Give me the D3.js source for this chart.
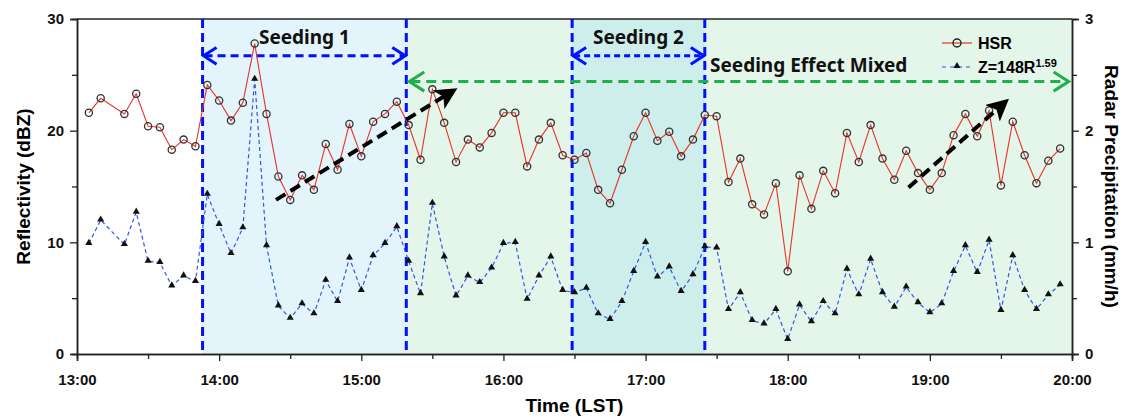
<!DOCTYPE html>
<html>
<head>
<meta charset="utf-8">
<script src="https://cdn.jsdelivr.net/npm/d3@7"></script>
<style>
  body { margin: 0; background: #fff; }
  svg { display: block; }
</style>
</head>
<body>
<svg class="chart"></svg>
<script>
// sample times (LST), 5 min steps, 13:15 missing
const times = ["13:05","13:10","13:20","13:25","13:30","13:35","13:40","13:45","13:50","13:55",
  "14:00","14:05","14:10","14:15","14:20","14:25","14:30","14:35","14:40","14:45","14:50","14:55",
  "15:00","15:05","15:10","15:15","15:20","15:25","15:30","15:35","15:40","15:45","15:50","15:55",
  "16:00","16:05","16:10","16:15","16:20","16:25","16:30","16:35","16:40","16:45","16:50","16:55",
  "17:00","17:05","17:10","17:15","17:20","17:25","17:30","17:35","17:40","17:45","17:50","17:55",
  "18:00","18:05","18:10","18:15","18:20","18:25","18:30","18:35","18:40","18:45","18:50","18:55",
  "19:00","19:05","19:10","19:15","19:20","19:25","19:30","19:35","19:40","19:45","19:50","19:55"]

// HSR reflectivity (dBZ)
const hsr = [21.6,22.9,21.5,23.3,20.4,20.3,18.3,19.2,18.6,24.1,
  22.7,20.9,22.5,27.8,21.5,15.9,13.8,16.0,14.7,18.8,16.5,20.6,
  17.7,20.8,21.5,22.6,20.5,17.4,23.7,20.7,17.2,19.2,18.5,19.8,
  21.6,21.6,16.8,19.2,20.7,17.8,17.4,18.0,14.7,13.5,16.5,19.5,
  21.6,19.1,19.9,17.7,19.2,21.4,21.3,15.4,17.5,13.4,12.5,15.3,
  7.4,16.0,13.0,16.4,14.4,19.8,17.2,20.5,17.5,15.6,18.2,16.2,
  14.7,16.2,19.6,21.5,19.5,21.8,15.1,20.8,17.8,15.3,17.3,18.4]

// Z=148R^1.59 radar precipitation (mm/h)
const zr = [0.99,1.20,0.98,1.27,0.83,0.82,0.61,0.70,0.65,1.43,
  1.16,0.90,1.13,2.46,0.97,0.43,0.32,0.45,0.36,0.66,0.47,0.86,
  0.57,0.88,0.99,1.14,0.83,0.54,1.35,0.87,0.52,0.70,0.64,0.77,
  0.99,1.00,0.49,0.70,0.87,0.57,0.55,0.59,0.36,0.31,0.47,0.74,
  1.00,0.69,0.78,0.56,0.71,0.96,0.95,0.40,0.55,0.30,0.27,0.40,
  0.13,0.44,0.29,0.47,0.36,0.76,0.53,0.85,0.55,0.42,0.60,0.46,
  0.37,0.45,0.74,0.97,0.73,1.02,0.39,0.88,0.57,0.40,0.53,0.62]

const xTicks = ["13:00","14:00","15:00","16:00","17:00","18:00","19:00","20:00"]
const yTicks = [0,10,20,30]
const yRTicks = [0,1,2,3]

const seeding1 = ["13:53","15:19"]
const seeding2 = ["16:29","17:25"]
const mixed = ["15:19","20:00"]
// trend arrows [time, dBZ]
const trends = [
  [["14:24",13.8],["15:39",23.6]],
  [["18:51",14.9],["19:32",22.6]]
]

const W = 1132, H = 419
const toMin = s => { const p = s.split(":"); return (+p[0]-13)*60 + (+p[1]) }

const svg = d3.select(".chart").attr("width", W).attr("height", H)

const x = d3.scaleLinear().domain([0,420]).range([77,1072])
const y = d3.scaleLinear().domain([0,30]).range([354,19])
const yR = d3.scaleLinear().domain([0,3]).range([354,19])

const defs = svg.append("defs")

// background shading
svg.append("rect")
.attr("x", x(toMin(mixed[0]))).attr("y", y(30))
.attr("width", x(toMin(mixed[1])) - x(toMin(mixed[0])))
.attr("height", y(0) - y(30))
.attr("fill", "#e4f5ea")

svg.append("rect")
.attr("x", x(toMin(seeding1[0]))).attr("y", y(30))
.attr("width", x(toMin(seeding1[1])) - x(toMin(seeding1[0])))
.attr("height", y(0) - y(30))
.attr("fill", "#e3f4fb")

svg.append("rect")
.attr("x", x(toMin(seeding2[0]))).attr("y", y(30))
.attr("width", x(toMin(seeding2[1])) - x(toMin(seeding2[0])))
.attr("height", y(0) - y(30))
.attr("fill", "#cdeeea")

// top frame line
svg.append("line")
.attr("x1", x(0)).attr("x2", x(420)).attr("y1", y(30)).attr("y2", y(30))
.style("stroke", "#222").style("stroke-width", "1.5px")

// axes
const tickFont = "bold 15px 'Liberation Sans', Arial, sans-serif"

const gx = svg.append("g").attr("transform", `translate(0,${y(0)})`)
gx.call(d3.axisBottom(x).tickValues(xTicks.map(toMin)).tickFormat((d,i)=>xTicks[i]).tickSize(7).tickPadding(13))
gx.append("g").call(d3.axisBottom(x).tickValues(d3.range(30,420,60)).tickFormat("").tickSize(5))

const gy = svg.append("g").attr("transform", `translate(${x(0)},0)`)
gy.call(d3.axisLeft(y).tickValues(yTicks).tickSize(7).tickPadding(6))
gy.append("g").call(d3.axisLeft(y).tickValues([5,15,25]).tickFormat("").tickSize(5))

const gyR = svg.append("g").attr("transform", `translate(${x(420)},0)`)
gyR.call(d3.axisRight(yR).tickValues(yRTicks).tickFormat(d3.format("d")).tickSize(7).tickPadding(6))
gyR.append("g").call(d3.axisRight(yR).tickValues([0.5,1.5,2.5]).tickFormat("").tickSize(5))

svg.selectAll(".domain").style("stroke", "#222").style("stroke-width", "1.5px")
svg.selectAll(".tick line").style("stroke", "#222").style("stroke-width", "1.3px")
svg.selectAll(".tick text").style("font", tickFont).style("fill", "#111")

// axis titles
const titleFont = "bold 19px 'Liberation Sans', Arial, sans-serif"
svg.append("text")
.attr("transform", `translate(30,${(y(0)+y(30))/2}) rotate(-90)`)
.attr("text-anchor", "middle")
.style("font", titleFont)
.text("Reflectivity (dBZ)")

svg.append("text")
.attr("transform", `translate(1105,${(y(0)+y(30))/2}) rotate(90)`)
.attr("text-anchor", "middle")
.style("font", titleFont)
.text("Radar Precipitation (mm/h)")

svg.append("text")
.attr("x", (x(0)+x(420))/2).attr("y", 412)
.attr("text-anchor", "middle")
.style("font", titleFont)
.text("Time (LST)")

// vertical seeding boundaries
const vLines = [seeding1[0], seeding1[1], seeding2[0], seeding2[1]]
svg.selectAll(".vline").data(vLines).enter().append("line")
.attr("class", "vline")
.attr("x1", d=>x(toMin(d))).attr("x2", d=>x(toMin(d)))
.attr("y1", y(30)).attr("y2", y(0))
.style("stroke", "#0011ff").style("stroke-width", "3px")
.style("stroke-dasharray", "9,5")

// double-headed dashed arrow with open chevrons
function dblArrow(xa, xb, yy, col, dash, w, hl) {
  const g = svg.append("g")
  g.append("line")
  .attr("x1", xa+2).attr("x2", xb-2).attr("y1", yy).attr("y2", yy)
  .style("stroke", col).style("stroke-width", w+"px").style("stroke-dasharray", dash)
  const chev = d3.line()
  g.append("path")
  .attr("d", chev([[xa+hl, yy-hl*0.6],[xa+1, yy],[xa+hl, yy+hl*0.6]]))
  .attr("fill", "none").style("stroke", col).style("stroke-width", w+"px")
  g.append("path")
  .attr("d", chev([[xb-hl, yy-hl*0.6],[xb-1, yy],[xb-hl, yy+hl*0.6]]))
  .attr("fill", "none").style("stroke", col).style("stroke-width", w+"px")
}

dblArrow(x(toMin(seeding1[0])), x(toMin(seeding1[1])), y(26.7), "#0011ff", "8,5", 3, 14)
dblArrow(x(toMin(seeding2[0])), x(toMin(seeding2[1])), y(26.7), "#0011ff", "6,4", 3, 14)
dblArrow(x(toMin(mixed[0]))+2, x(419), y(24.4), "#1fb04c", "10,6", 3, 16)

// labels
const lblFont = "bold 19px 'Noto Sans', sans-serif"
svg.append("text")
.attr("x", (x(toMin(seeding1[0]))+x(toMin(seeding1[1])))/2).attr("y", 44)
.attr("text-anchor", "middle").style("font", lblFont).style("fill", "#111")
.text("Seeding 1")
svg.append("text")
.attr("x", (x(toMin(seeding2[0]))+x(toMin(seeding2[1])))/2).attr("y", 44)
.attr("text-anchor", "middle").style("font", lblFont).style("fill", "#111")
.text("Seeding 2")
svg.append("text")
.attr("x", 710).attr("y", 72)
.style("font", lblFont).style("fill", "#111")
.text("Seeding Effect Mixed")

// data lines
const pts = times.map((t,i)=>({m: toMin(t), h: hsr[i], z: zr[i]}))

const lineH = d3.line().x(d=>x(d.m)).y(d=>y(d.h))
const lineZ = d3.line().x(d=>x(d.m)).y(d=>yR(d.z))

svg.append("path")
.attr("d", lineZ(pts))
.attr("fill", "none")
.style("stroke", "#3355ee").style("stroke-width", "1.2px")
.style("stroke-dasharray", "4,3")

svg.append("path")
.attr("d", lineH(pts))
.attr("fill", "none")
.style("stroke", "#e8322a").style("stroke-width", "1.1px")

const tri = d3.symbol().type(d3.symbolTriangle).size(22)

svg.append("g").selectAll("path")
.data(pts).enter().append("path")
.attr("d", tri)
.attr("transform", d=>`translate(${x(d.m)},${yR(d.z)-0.5})`)
.attr("fill", "#111")

svg.append("g").selectAll("circle")
.data(pts).enter().append("circle")
.attr("cx", d=>x(d.m)).attr("cy", d=>y(d.h))
.attr("r", 3.6)
.attr("fill", "none")
.style("stroke", "#333").style("stroke-width", "1.3px")

// trend arrows
defs.append("marker")
.attr("id", "blk")
.attr("viewBox", "0 0 10 10")
.attr("refX", 8).attr("refY", 5)
.attr("markerWidth", 5.5).attr("markerHeight", 5.5)
.attr("markerUnits", "strokeWidth")
.attr("orient", "auto")
.append("path")
.attr("d", "M0,0 L10,5 L0,10 L2.5,5 Z")
.attr("fill", "#000")

svg.selectAll(".trend").data(trends).enter().append("line")
.attr("class", "trend")
.attr("x1", d=>x(toMin(d[0][0]))).attr("y1", d=>y(d[0][1]))
.attr("x2", d=>x(toMin(d[1][0]))).attr("y2", d=>y(d[1][1]))
.style("stroke", "#000").style("stroke-width", "4px")
.style("stroke-dasharray", "11,6")
.attr("marker-end", "url(#blk)")

// legend
const lg = svg.append("g").attr("transform", "translate(942,0)")
lg.append("line").attr("x1", 0).attr("x2", 30).attr("y1", 43).attr("y2", 43)
.style("stroke", "#e8322a").style("stroke-width", "1.2px")
lg.append("circle").attr("cx", 15).attr("cy", 43).attr("r", 4)
.attr("fill", "none").style("stroke", "#222").style("stroke-width", "1.4px")
lg.append("text").attr("x", 36).attr("y", 49)
.style("font", "bold 16px 'Liberation Sans', Arial, sans-serif").text("HSR")

lg.append("line").attr("x1", 0).attr("x2", 30).attr("y1", 67).attr("y2", 67)
.style("stroke", "#3355ee").style("stroke-width", "1.2px").style("stroke-dasharray", "4,4")
lg.append("path").attr("d", tri).attr("transform", "translate(15,66)").attr("fill", "#111")
const zt = lg.append("text").attr("x", 36).attr("y", 73)
.style("font", "bold 16px 'Liberation Sans', Arial, sans-serif")
zt.append("tspan").text("Z=148R")
zt.append("tspan").attr("dy", -6).style("font-size", "11px").text("1.59")
</script>
</body>
</html>
